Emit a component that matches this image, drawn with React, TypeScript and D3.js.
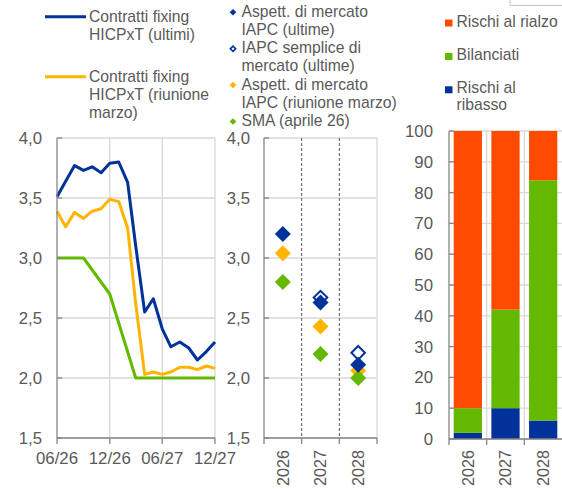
import React from 'react';
import * as d3 from 'd3';

// ---------- data ----------
const months = ['2026-06','2026-07','2026-08','2026-09','2026-10','2026-11','2026-12','2027-01','2027-02','2027-03','2027-04','2027-05','2027-06','2027-07','2027-08','2027-09','2027-10','2027-11','2027-12'];
const fixingLatest = [3.51,3.64,3.77,3.73,3.76,3.71,3.79,3.80,3.63,3.10,2.55,2.66,2.41,2.26,2.30,2.25,2.15,2.22,2.30];
const fixingMarch = [3.39,3.26,3.38,3.33,3.39,3.41,3.49,3.47,3.25,2.62,2.03,2.05,2.03,2.05,2.09,2.09,2.07,2.10,2.08];
const smaDates = ['2026-06','2026-09','2026-12','2027-03','2027-06','2027-09','2027-12'];
const smaPath = [3.0,3.0,2.7,2.0,2.0,2.0,2.0];
const xTickDates = ['2026-06','2026-12','2027-06','2027-12'];
const xTickLabels = ['06/26','12/26','06/27','12/27'];
const yTicks = [1.5,2.0,2.5,3.0,3.5,4.0];

const years = ['2026','2027','2028'];
const expLatest = [3.20,2.63,2.11];
const simpleLatest: (number|null)[] = [null,2.67,2.21];
const expMarch = [3.04,2.43,2.06];
const smaAnnual = [2.80,2.20,2.00];

const riskDown = [2,10,6];
const riskBalanced = [8,32,78];
const riskUp = [90,58,16];
const pctTicks = [0,10,20,30,40,50,60,70,80,90,100];

// ---------- style ----------
const BLUE = '#003299';
const YELLOW = '#FFB400';
const GREEN = '#65B800';
const ORANGE = '#FF4B00';
const TEXT = '#595959';
const AXIS = '#868686';
const GRID = '#d9d9d9';
const FONT = '"Liberation Sans", Arial, sans-serif';
const LEG_FS = 15.7;
const AX_FS = 16.8;
const ROT_FS = 16.2;

const parse = d3.timeParse('%Y-%m');
const fmt = (v: number) => d3.format('.1f')(v).replace('.', ',');

export default function App() {
  const W = 562, H = 489;
  const y = d3.scaleLinear().domain([1.5, 4]).range([438, 138]);
  const x = d3.scaleTime().domain([parse('2026-06')!, parse('2027-12')!]).range([57, 215]);
  const xm = d3.scaleBand().domain(years).range([264, 377]);
  const yp = d3.scaleLinear().domain([0, 100]).range([439, 131]);
  const xb = d3.scaleBand().domain(years).range([449, 562]).paddingInner(0.25).paddingOuter(0.125);

  const line = d3.line<[Date, number]>().x(d => x(d[0])).y(d => y(d[1]));
  const series1 = months.map((m, i) => [parse(m)!, fixingLatest[i]] as [Date, number]);
  const series2 = months.map((m, i) => [parse(m)!, fixingMarch[i]] as [Date, number]);
  const series3 = smaDates.map((m, i) => [parse(m)!, smaPath[i]] as [Date, number]);

  const bigSq = d3.symbol().type(d3.symbolSquare).size(128)()!;
  const bigSqHollow = d3.symbol().type(d3.symbolSquare).size(92)()!;
  const smallSq = d3.symbol().type(d3.symbolSquare).size(22)()!;
  const smallSqHollow = d3.symbol().type(d3.symbolSquare).size(14)()!;

  const stack = d3.stack<any>().keys(['down', 'bal', 'up'])(
    years.map((yr, i) => ({ yr, down: riskDown[i], bal: riskBalanced[i], up: riskUp[i] }))
  );
  const stackColors = [BLUE, GREEN, ORANGE];

  const txt = { fontFamily: FONT, fill: TEXT } as const;

  const midLegend = [
    { lines: ['Aspett. di mercato', 'IAPC (ultime)'], kind: 'fill', color: BLUE },
    { lines: ['IAPC semplice di', 'mercato (ultime)'], kind: 'hollow', color: BLUE },
    { lines: ['Aspett. di mercato', 'IAPC (riunione marzo)'], kind: 'fill', color: YELLOW },
    { lines: ['SMA (aprile 26)'], kind: 'fill', color: GREEN },
  ];
  let lineIdx = 0;

  return (
    <svg width={W} height={H} style={{ position: 'absolute', left: 0, top: 0, background: '#fff' }}>
      <path d="M510,0V5.5H562" fill="none" stroke="#c8c8c8" strokeWidth={1} />

      {/* ---------- left legend ---------- */}
      <line x1={45} x2={86} y1={16.7} y2={16.7} stroke={BLUE} strokeWidth={3} />
      {['Contratti fixing', 'HICPxT (ultimi)'].map((t, i) => (
        <text key={'l1' + i} x={89} y={22 + i * 18} fontSize={LEG_FS} {...txt}>{t}</text>
      ))}
      <line x1={45} x2={86} y1={76.7} y2={76.7} stroke={YELLOW} strokeWidth={3} />
      {['Contratti fixing', 'HICPxT (riunione', 'marzo)'].map((t, i) => (
        <text key={'l2' + i} x={89} y={82 + i * 18} fontSize={LEG_FS} {...txt}>{t}</text>
      ))}

      {/* ---------- middle legend ---------- */}
      {midLegend.map((e, k) => {
        const start = lineIdx;
        lineIdx += e.lines.length;
        const by = 16.8 + start * 18.2;
        return (
          <g key={'ml' + k}>
            {e.kind === 'fill' ? (
              <path d={smallSq} transform={`translate(233,${by - 4.5}) rotate(45)`} fill={e.color} />
            ) : (
              <path d={smallSqHollow} transform={`translate(233,${by - 4.5}) rotate(45)`} fill="#fff" stroke={e.color} strokeWidth={1.6} />
            )}
            {e.lines.map((t, i) => (
              <text key={i} x={241.5} y={by + i * 18.2} fontSize={LEG_FS} {...txt}>{t}</text>
            ))}
          </g>
        );
      })}

      {/* ---------- right legend ---------- */}
      {[
        { c: ORANGE, lines: ['Rischi al rialzo'], y: 26.5 },
        { c: GREEN, lines: ['Bilanciati'], y: 60 },
        { c: BLUE, lines: ['Rischi al', 'ribasso'], y: 93.3 },
      ].map((e, k) => (
        <g key={'rl' + k}>
          <rect x={445} y={e.y - 7} width={7.5} height={7} fill={e.c} />
          {e.lines.map((t, i) => (
            <text key={i} x={456.5} y={e.y + i * 17} fontSize={LEG_FS} {...txt}>{t}</text>
          ))}
        </g>
      ))}

      {/* ---------- left panel: lines ---------- */}
      {yTicks.map(t => (
        <line key={'gl' + t} x1={57} x2={215} y1={y(t)} y2={y(t)} stroke={GRID} strokeWidth={1.3} />
      ))}
      {xTickDates.slice(1).map(d => (
        <line key={'gv' + d} x1={x(parse(d)!)} x2={x(parse(d)!)} y1={y(4)} y2={y(1.5)} stroke={GRID} strokeWidth={1.3} />
      ))}
      <path d={line(series3)!} fill="none" stroke={GREEN} strokeWidth={3} strokeLinejoin="round" />
      <path d={line(series2)!} fill="none" stroke={YELLOW} strokeWidth={3} strokeLinejoin="round" />
      <path d={line(series1)!} fill="none" stroke={BLUE} strokeWidth={3} strokeLinejoin="round" />
      <line x1={57} x2={57} y1={y(4)} y2={y(1.5)} stroke={AXIS} strokeWidth={1.3} />
      <line x1={57} x2={215} y1={y(1.5)} y2={y(1.5)} stroke={AXIS} strokeWidth={1.3} />
      {yTicks.map(t => (
        <g key={'yl' + t}>
          <line x1={57} x2={62} y1={y(t)} y2={y(t)} stroke={AXIS} strokeWidth={1.3} />
          <text x={42} y={y(t)} dy="0.36em" textAnchor="end" fontSize={AX_FS} {...txt}>{fmt(t)}</text>
        </g>
      ))}
      {xTickDates.map((d, i) => (
        <g key={'xl' + d}>
          <line x1={x(parse(d)!)} x2={x(parse(d)!)} y1={y(1.5)} y2={y(1.5) + 6} stroke={AXIS} strokeWidth={1.3} />
          <text x={x(parse(d)!)} y={464.3} textAnchor="middle" fontSize={AX_FS} {...txt}>{xTickLabels[i]}</text>
        </g>
      ))}

      {/* ---------- middle panel: diamonds ---------- */}
      {yTicks.map(t => (
        <line key={'gm' + t} x1={264} x2={377} y1={y(t)} y2={y(t)} stroke={GRID} strokeWidth={1.3} />
      ))}
      <line x1={377} x2={377} y1={y(4)} y2={y(1.5)} stroke={GRID} strokeWidth={1.3} />
      {years.slice(1).map(yr => (
        <line key={'dm' + yr} x1={xm(yr)!} x2={xm(yr)!} y1={y(4)} y2={y(1.5)} stroke="#595959" strokeWidth={1} strokeDasharray="3,2" />
      ))}
      <line x1={264} x2={264} y1={y(4)} y2={y(1.5)} stroke={AXIS} strokeWidth={1.3} />
      <line x1={264} x2={377} y1={y(1.5)} y2={y(1.5)} stroke={AXIS} strokeWidth={1.3} />
      {yTicks.map(t => (
        <g key={'ym' + t}>
          <line x1={264} x2={269} y1={y(t)} y2={y(t)} stroke={AXIS} strokeWidth={1.3} />
          <text x={250} y={y(t)} dy="0.36em" textAnchor="end" fontSize={AX_FS} {...txt}>{fmt(t)}</text>
        </g>
      ))}
      {[...years.map(yr => xm(yr)!), 377].map((xx, i) => (
        <line key={'tm' + i} x1={xx} x2={xx} y1={y(1.5)} y2={y(1.5) + 6} stroke={AXIS} strokeWidth={1.3} />
      ))}
      {years.map((yr, i) => {
        const cx = xm(yr)! + xm.bandwidth() / 2;
        return (
          <g key={'dia' + yr}>
            <path d={bigSq} transform={`translate(${cx},${y(expMarch[i])}) rotate(45)`} fill={YELLOW} />
            <path d={bigSq} transform={`translate(${cx},${y(smaAnnual[i])}) rotate(45)`} fill={GREEN} />
            {simpleLatest[i] != null && (
              <path d={bigSqHollow} transform={`translate(${cx},${y(simpleLatest[i] as number)}) rotate(45)`} fill="#fff" stroke={BLUE} strokeWidth={2} />
            )}
            <path d={bigSq} transform={`translate(${cx},${y(expLatest[i])}) rotate(45)`} fill={BLUE} />
            <text transform={`translate(${cx},450) rotate(-90)`} dy="0.36em" textAnchor="end" fontSize={ROT_FS} {...txt}>{yr}</text>
          </g>
        );
      })}

      {/* ---------- right panel: stacked bars ---------- */}
      {pctTicks.map(t => (
        <line key={'gp' + t} x1={449} x2={562} y1={yp(t)} y2={yp(t)} stroke={GRID} strokeWidth={1.3} />
      ))}
      {[1, 2].map(k => (
        <line key={'gpv' + k} x1={449 + k * xb.step()} x2={449 + k * xb.step()} y1={yp(100)} y2={yp(0)} stroke={GRID} strokeWidth={1.3} />
      ))}
      {stack.map((s, si) => (
        <g key={'st' + si} fill={stackColors[si]}>
          {s.map((d, i) => (
            <rect key={i} x={xb(years[i])!} width={xb.bandwidth()} y={yp(d[1])} height={yp(d[0]) - yp(d[1])} />
          ))}
        </g>
      ))}
      <line x1={449} x2={449} y1={yp(100)} y2={yp(0)} stroke={AXIS} strokeWidth={1.3} />
      <line x1={449} x2={562} y1={yp(0)} y2={yp(0)} stroke={AXIS} strokeWidth={1.3} />
      {pctTicks.map(t => (
        <g key={'yp' + t}>
          <line x1={449} x2={454} y1={yp(t)} y2={yp(t)} stroke={AXIS} strokeWidth={1.3} />
          <text x={433} y={yp(t)} dy="0.36em" textAnchor="end" fontSize={AX_FS} {...txt}>{t}</text>
        </g>
      ))}
      {[0, 1, 2].map(k => (
        <line key={'tp' + k} x1={449 + k * xb.step()} x2={449 + k * xb.step()} y1={yp(0)} y2={yp(0) + 6} stroke={AXIS} strokeWidth={1.3} />
      ))}
      {years.map(yr => (
        <text key={'xp' + yr} transform={`translate(${xb(yr)! + xb.bandwidth() / 2},450) rotate(-90)`} dy="0.36em" textAnchor="end" fontSize={ROT_FS} {...txt}>{yr}</text>
      ))}
    </svg>
  );
}
